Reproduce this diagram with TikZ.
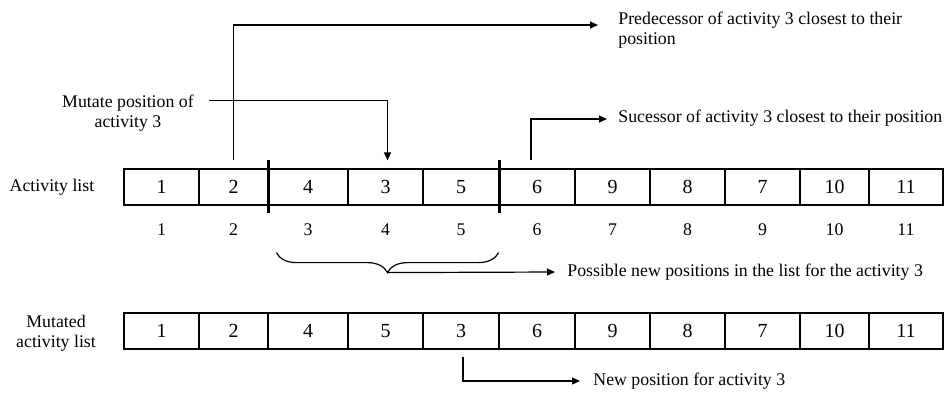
\documentclass[tikz,border=0pt]{standalone}
\usepackage{fontspec}
\setmainfont{Liberation Serif}
\usetikzlibrary{arrows.meta,calc,decorations.pathreplacing,positioning}

\begin{document}
\begin{tikzpicture}[x=0.5pt, y=-0.5pt,
    cell/.style={draw, line width=0.6pt, minimum height=18pt, inner sep=0pt,
      font=\fontsize{10}{12}\selectfont},
    idx/.style={inner sep=0pt, font=\fontsize{8.9}{10}\selectfont},
    lbl/.style={inner sep=0pt, font=\fontsize{8.9}{10}\selectfont},
    arr/.style={line width=0.6pt, -{Triangle[length=4pt, width=3.5pt]}},
    bar/.style={line width=1.5pt}]
    \useasboundingbox (0,0) rectangle (944,392);
    \def\rowA{187}
    \def\rowM{331}

    % both lists, with the positions under the first one
    \foreach \v/\w/\l/\r [count=\i] in {1/1/124/199, 2/2/199/268, 4/4/268/348,
      3/5/348/423, 5/3/423/499, 6/6/499/575, 9/9/575/650, 8/8/650/725,
      7/7/725/800, 10/10/800/869, 11/11/869/943} {
      \node [cell, minimum width={(\r-\l)*0.5pt}] (a\i) at ({(\l+\r)/2}, \rowA) {\v};
      \node [cell, minimum width={(\r-\l)*0.5pt}] (m\i) at ({(\l+\r)/2}, \rowM) {\w};
      \node [idx] (i\i) at ({(\l+\r)/2}, 230) {\i};
    }
    \node [lbl, align=center] (alist) at (52,\rowA) {Activity list};
    \node [lbl, align=center] (mlist) at (56,333) {Mutated\\activity list};

    % cut marks round the mutated activity
    \draw [bar] ($(a2.north east)+(0,-8)$) -- ($(a2.south east)+(0,7)$);
    \draw [bar] ($(a5.north east)+(0,-8)$) -- ($(a5.south east)+(0,7)$);

    % texts
    \node [lbl, align=center] (mut) at (128,113) {Mutate position of\\activity 3};
    \node [lbl, align=left, anchor=north west] (pred) at (618,12)
      {Predecessor of activity 3 closest to their\\position};
    \node [lbl, anchor=west] (succ) at (618,118)
      {Sucessor of activity 3 closest to their position};
    \node [lbl, anchor=west] (poss) at (567,272)
      {Possible new positions in the list for the activity 3};
    \node [lbl, anchor=west] (newp) at (593,381) {New position for activity 3};

    % connectors
    \draw [arr] ($(a2.north)+(0,-8)$) |- ($(pred.north west)+(-20,13)$);
    \draw [arr] ($(mut.north east)+(15,6)$) -| ($(a4.north)+(2,-8)$);
    \draw [arr] ($(a6.north)+(-6,-8)$) |- ($(succ.west)+(-11,1)$);

    % brace over the possible positions
    \coordinate (bl) at ($(a3.south west)+(9,47)$);
    \coordinate (br) at ($(a5.south east)+(-1,47)$);
    \coordinate (brtip) at ($(bl)!0.5!(br)+(0,20)$);
    \draw [line width=0.6pt, decorate, decoration={brace, mirror, amplitude=10pt}]
      (bl) -- (br);
    \draw [arr] (brtip) -- ($(poss.west)+(-12,0)$);

    \draw [arr] ($(m5.south)+(2,7)$) |- ($(newp.west)+(-13,0)$);
\end{tikzpicture}
\end{document}
